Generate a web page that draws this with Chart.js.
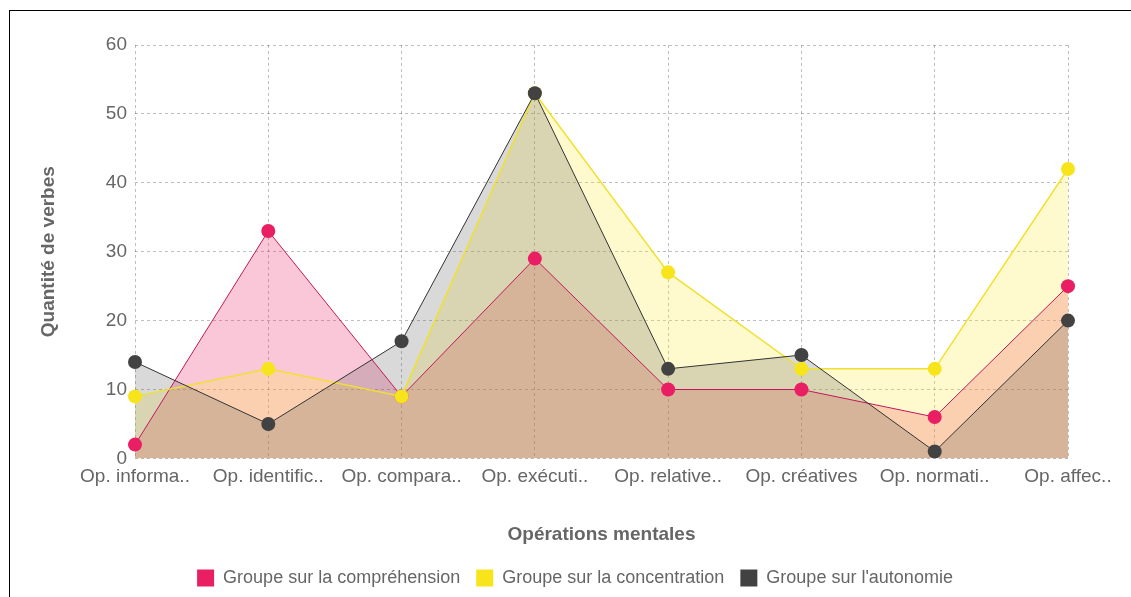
<!DOCTYPE html>
<html>
<head>
<meta charset="utf-8">
<script src="https://cdn.jsdelivr.net/npm/chart.js@4.4.1/dist/chart.umd.min.js"></script>
<style>
    html, body { margin: 0; padding: 0; background: #fff; overflow: hidden; }
    #frame { position: absolute; left: 9px; top: 10px; width: 1140px; height: 620px; border: 1px solid #000; }
    #wrap { position: absolute; left: 0; top: 0; width: 1131px; height: 597px; }
</style>
</head>
<body>
<div id="frame"></div>
<div id="wrap"><canvas id="opsChart"></canvas></div>
<script>
// Catégories (libellés tronqués comme sur le graphique)
const categories = ['Op. informa..', 'Op. identific..', 'Op. compara..', 'Op. exécuti..',
    'Op. relative..', 'Op. créatives', 'Op. normati..', 'Op. affec..'];

const seriesNames = ['Groupe sur la compréhension', 'Groupe sur la concentration', "Groupe sur l'autonomie"];

const comprehension = [2, 33, 9, 29, 10, 10, 6, 25];
const concentration = [9, 13, 9, 53, 27, 13, 13, 42];
const autonomie = [14, 5, 17, 53, 13, 15, 1, 20];

const yTicks = { min: 0, max: 60, step: 10 };

const fontFamily = '"Liberation Sans", Arial, sans-serif';
const textGray = '#666';
const gridGray = 'rgba(0, 0, 0, 0.25)';

const ctx = document.getElementById('opsChart');

new Chart(ctx, {
    type: 'line',
    data: {
        labels: categories,
        datasets: [
            {
                label: seriesNames[0],
                data: comprehension,
                order: 3,
                fill: 'origin',
                backgroundColor: 'rgba(233, 30, 99, 0.25)',
                borderColor: '#c2185b',
                borderWidth: 1,
                pointBackgroundColor: '#e91e63',
                pointBorderWidth: 0,
                pointRadius: 7,
                tension: 0
            },
            {
                label: seriesNames[1],
                data: concentration,
                order: 2,
                fill: 'origin',
                backgroundColor: 'rgba(255, 235, 59, 0.25)',
                borderColor: '#f0e130',
                borderWidth: 1.5,
                pointBackgroundColor: '#f7e41a',
                pointBorderWidth: 0,
                pointRadius: 7,
                tension: 0
            },
            {
                label: seriesNames[2],
                data: autonomie,
                order: 1,
                fill: 'origin',
                backgroundColor: 'rgba(66, 66, 66, 0.2)',
                borderColor: '#333',
                borderWidth: 1,
                pointBackgroundColor: '#424242',
                pointBorderWidth: 0,
                pointRadius: 7,
                tension: 0
            }
        ]
    },
    options: {
        responsive: true,
        maintainAspectRatio: false,
        animation: false,
        layout: { padding: { top: 45, right: 0, bottom: 0, left: 19 } },
        plugins: {
            filler: { drawTime: 'beforeDatasetsDraw' },
            legend: {
                position: 'bottom',
                labels: {
                    color: textGray,
                    font: { family: fontFamily, size: 18 },
                    boxWidth: 17,
                    boxHeight: 17,
                    padding: 16,
                    sort: (a, b) => a.datasetIndex - b.datasetIndex,
                    generateLabels: function(chart) {
                        return chart.data.datasets.map((ds, i) => ({
                            text: ds.label,
                            fillStyle: ds.pointBackgroundColor,
                            strokeStyle: ds.pointBackgroundColor,
                            lineWidth: 0,
                            fontColor: textGray,
                            hidden: false,
                            datasetIndex: i
                        }));
                    }
                }
            },
            tooltip: { enabled: false }
        },
        scales: {
            x: {
                grid: { color: gridGray, drawTicks: false },
                border: { display: false, dash: [3, 3] },
                ticks: {
                    color: textGray,
                    font: { family: fontFamily, size: 19 },
                    padding: 7,
                    maxRotation: 0,
                    autoSkip: false
                },
                title: {
                    display: true,
                    text: 'Opérations mentales',
                    color: textGray,
                    font: { family: fontFamily, size: 19, weight: 'bold' },
                    padding: { top: 28, bottom: 7 }
                }
            },
            y: {
                min: yTicks.min,
                max: yTicks.max,
                grid: { color: gridGray, drawTicks: false },
                border: { display: false, dash: [3, 3] },
                ticks: {
                    stepSize: yTicks.step,
                    color: textGray,
                    font: { family: fontFamily, size: 19 },
                    padding: 8
                },
                title: {
                    display: true,
                    text: 'Quantité de verbes',
                    color: textGray,
                    font: { family: fontFamily, size: 19, weight: 'bold' },
                    padding: { top: 18, bottom: 10 }
                },
                afterFit: (scale) => { scale.width = 116; }
            },
            yRight: {
                position: 'right',
                min: yTicks.min,
                max: yTicks.max,
                grid: { display: false },
                border: { display: false },
                ticks: { display: false },
                afterFit: (scale) => { scale.width = 63; }
            }
        }
    }
});
</script>
</body>
</html>
